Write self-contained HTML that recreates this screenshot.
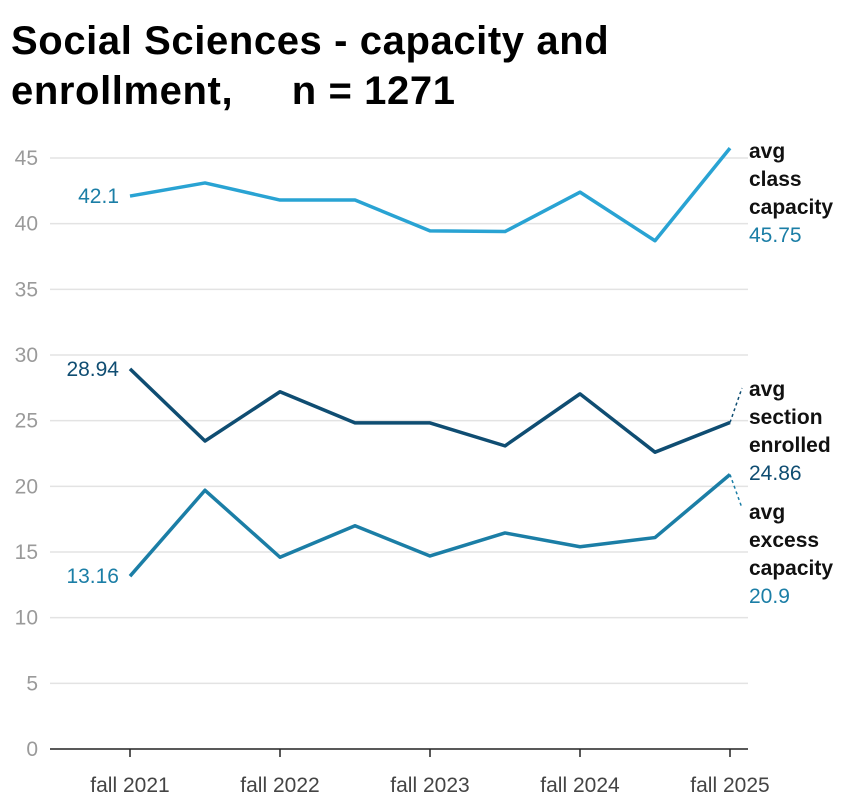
<!DOCTYPE html>
<html><head><meta charset="utf-8"><style>
body{margin:0;background:#fff;width:850px;height:811px;overflow:hidden;font-family:"Liberation Sans",Arial,sans-serif}
h1{position:absolute;left:11px;top:16px;margin:0;font-size:40px;line-height:50px;font-weight:bold;color:#000;letter-spacing:0.6px}
svg{position:absolute;left:0;top:0}
</style></head><body>
<h1>Social Sciences - capacity and<br>enrollment,&nbsp;&nbsp;&nbsp;&nbsp; n = 1271</h1>
<svg id="c" width="850" height="811"></svg>
<script>
const yTicks=[0,5,10,15,20,25,30,35,40,45];
const xLabels=["fall 2021","fall 2022","fall 2023","fall 2024","fall 2025"];
const capacity=[42.1,43.1,41.8,41.8,39.45,39.4,42.4,38.7,45.75];
const enrolled=[28.94,23.45,27.2,24.83,24.83,23.08,27.04,22.6,24.86];
const excess=[13.16,19.7,14.6,17.0,14.7,16.45,15.4,16.1,20.9];
const ns="http://www.w3.org/2000/svg",svg=document.getElementById('c');
const y=v=>749-v*(591/45), x=i=>130+i*75;
function mk(t,a,txt){const e=document.createElementNS(ns,t);for(const k in a)e.setAttribute(k,a[k]);if(txt!=null)e.textContent=txt;svg.appendChild(e);return e;}
yTicks.forEach(t=>{
 if(t>0){const g=mk('line',{x1:50,x2:748,y1:y(t),y2:y(t),stroke:'#e3e3e3','stroke-width':1.5});
 
 }
 const l=mk('text',{x:38,y:y(t)+7,'text-anchor':'end','font-size':21,fill:'#9a9a9a'},t);
 
 
});
const ax=mk('line',{x1:50,x2:748,y1:749,y2:749,stroke:'#222','stroke-width':1.5});


xLabels.forEach((s,i)=>{
 const px=x(i*2);
 const tk=mk('line',{x1:px,x2:px,y1:749,y2:757,stroke:'#222','stroke-width':1.5});
 
 
 const l=mk('text',{x:px,y:792,'text-anchor':'middle','font-size':21,fill:'#444'},s);
 
 
});
function series(arr,col,lcol,name,first){
 const p=mk('polyline',{points:arr.map((v,i)=>x(i)+','+y(v)).join(' '),fill:'none',stroke:col,'stroke-width':3.5,'stroke-linejoin':'round'});
 
 
 const l=mk('text',{x:119,y:y(arr[0])+7,'text-anchor':'end','font-size':21,fill:lcol},first);
 
 
}
series(capacity,'#29a3d3','#1b7ea6','capacity',String(capacity[0]));
series(enrolled,'#0f4d72','#0f4d72','enrolled',String(enrolled[0]));
series(excess,'#1b7ea6','#1b7ea6','excess',String(excess[0]));
function endLabel(lines,val,col,top,name){
 const t=mk('text',{x:749,y:top,'font-size':21,'font-weight':'bold',fill:'#111'});
 
 
 lines.forEach((s,i)=>{const ts=document.createElementNS(ns,'tspan');ts.setAttribute('x',749);ts.setAttribute('dy',i?28:0);ts.textContent=s;t.appendChild(ts);});
 const ts=document.createElementNS(ns,'tspan');ts.setAttribute('x',749);ts.setAttribute('dy',28);ts.setAttribute('font-weight','normal');ts.setAttribute('fill',col);ts.textContent=val;t.appendChild(ts);
}
endLabel(['avg','class','capacity'],'45.75','#1b7ea6',158,'capacity');
endLabel(['avg','section','enrolled'],'24.86','#0f4d72',396,'enrolled');
endLabel(['avg','excess','capacity'],'20.9','#1b7ea6',519,'excess');
const d1=mk('line',{x1:x(8),y1:y(enrolled[8]),x2:742,y2:388,stroke:'#0f4d72','stroke-width':1.5,'stroke-dasharray':'3,3'});


const d2=mk('line',{x1:x(8),y1:y(excess[8]),x2:742,y2:508,stroke:'#1b7ea6','stroke-width':1.5,'stroke-dasharray':'3,3'});


</script>
</body></html>
